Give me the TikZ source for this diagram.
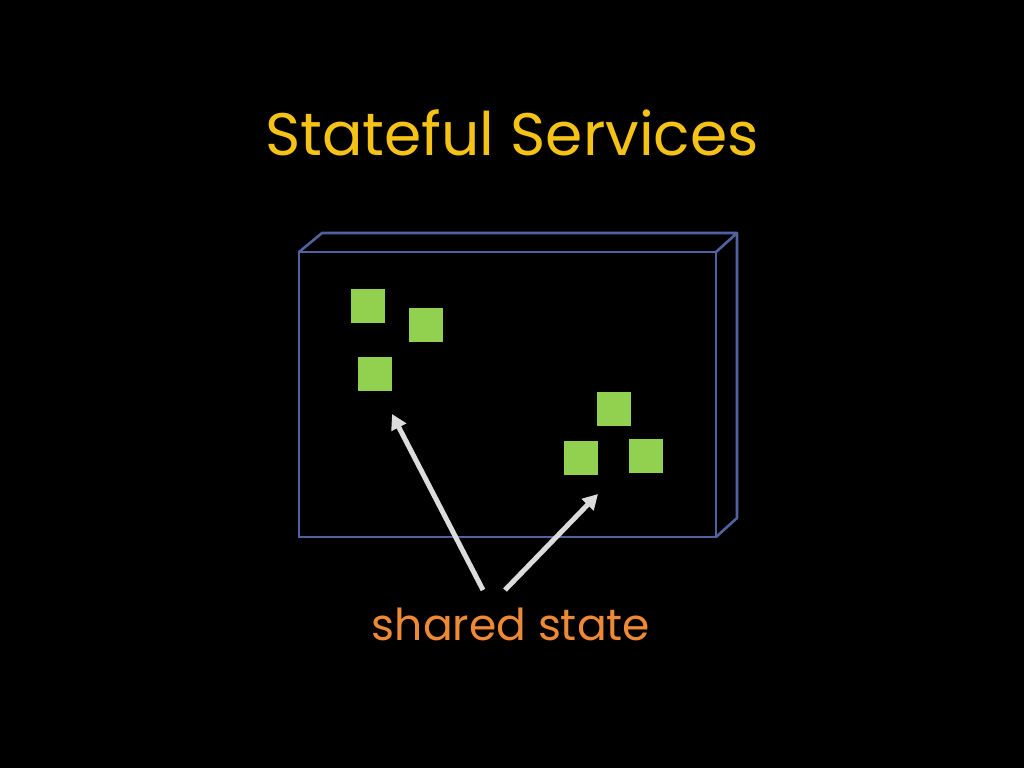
\documentclass[tikz,border=0pt]{standalone}
\usepackage{fontspec}
\setmainfont{Poppins}
\usepackage{tikz}
\usetikzlibrary{positioning,arrows.meta}
\definecolor{titleyellow}{HTML}{F5C216}
\definecolor{labelorange}{HTML}{EE8A35}
\definecolor{boxblue}{HTML}{5262A0}
\definecolor{stategreen}{HTML}{92D050}
\definecolor{arrowgrey}{HTML}{DCDCDC}

\begin{document}
\begin{tikzpicture}[x=1pt,y=-1pt,
    square/.style={fill=stategreen, minimum size=34pt, inner sep=0pt},
    pointer/.style={draw=arrowgrey, line width=5pt, -{Triangle[length=15pt,width=16pt]}}]
    \useasboundingbox[fill=black] (0,0) rectangle (1024,768);

    % Title
    \node[text=titleyellow, font=\fontsize{60}{66}\selectfont] (title) at (512,133) {Stateful Services};

    % Service box
    \draw[boxblue, line width=2.6pt] (299,252) rectangle (716,537); % Front
    \draw[boxblue, line width=2.6pt, line join=round] (299,252) -- (322,233) -- (737,233) -- (716,252); % Top
    \draw[boxblue, line width=2.6pt, line join=round] (737,233) -- (737,518) -- (716,537); % Side

    % State squares
    \node[square] (s1) at (368,306) {};
    \node[square] (s2) at (426,325) {};
    \node[square] (s3) at (375,374) {};
    \node[square] (s4) at (614,409) {};
    \node[square] (s5) at (581,458) {};
    \node[square] (s6) at (646,456) {};

    % Label and arrows
    \node[text=labelorange, font=\fontsize{44}{48}\selectfont] (shared) at (511,624) {shared state};
    \coordinate (from1) at (483,590);
    \coordinate (from2) at (505,590);
    \coordinate (to1) at (392,414);
    \coordinate (to2) at (598,494);
    \draw[pointer] (from1) -- (to1);
    \draw[pointer] (from2) -- (to2);
\end{tikzpicture}
\end{document}
